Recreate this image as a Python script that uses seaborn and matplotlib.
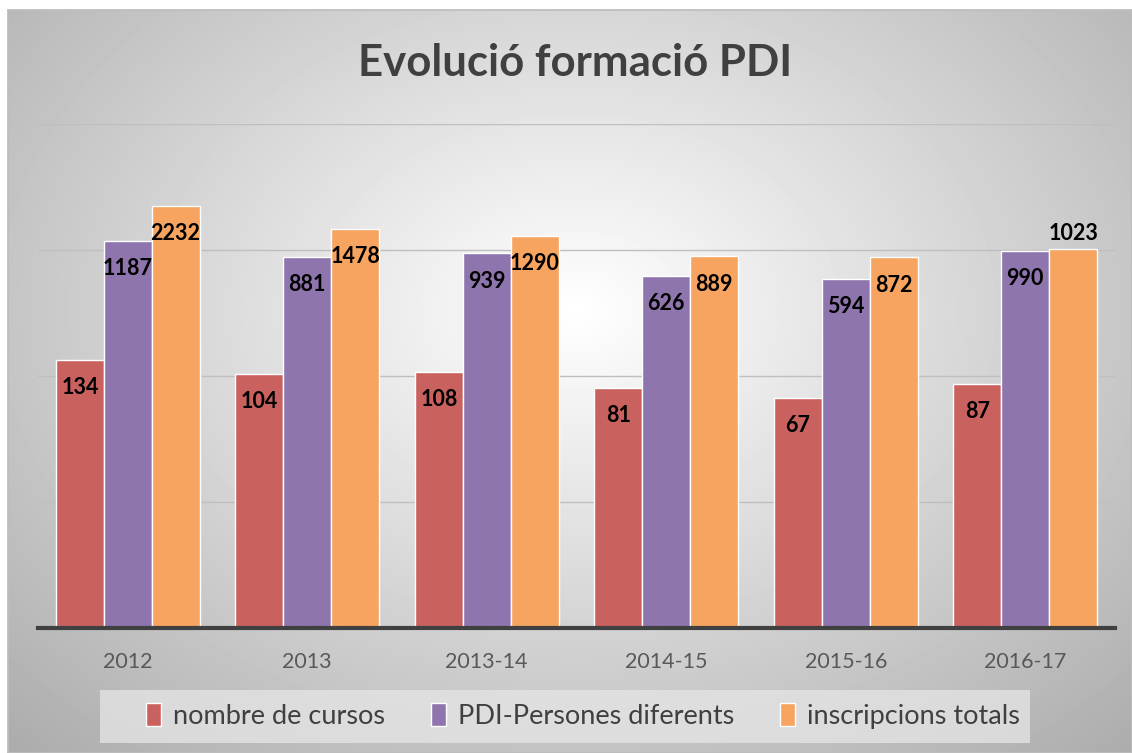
import numpy as np
import pandas as pd
import seaborn as sns
from matplotlib import pyplot as plt
from matplotlib.patches import Rectangle
from matplotlib.ticker import NullLocator

# data
years = ['2012', '2013', '2013-14', '2014-15', '2015-16', '2016-17']
cursos = [134, 104, 108, 81, 67, 87]
persones = [1187, 881, 939, 626, 594, 990]
inscripcions = [2232, 1478, 1290, 889, 872, 1023]
series = ['nombre de cursos', 'PDI-Persones diferents', 'inscripcions totals']
colors = ['#C9625F', '#8F75AE', '#F6A45F']

df = pd.DataFrame({
    'any': years * 3,
    'serie': np.repeat(series, len(years)),
    'valor': cursos + persones + inscripcions,
})

sns.set_theme(style='white')
plt.rcParams['font.family'] = ['Lato', 'DejaVu Sans']

fig = plt.figure(figsize=(11.32, 7.53), dpi=100)
fig.patch.set_facecolor('white')

# radial grey-to-white background
bg = fig.add_axes([8 / 1132, 0, 1 - 8 / 1132, 1 - 10 / 753], zorder=-10)
yy, xx = np.mgrid[0:743, 0:1124]
r = np.sqrt(((xx - 567) / 700) ** 2 + ((yy - 300) / 520) ** 2)
shade = np.clip(1 - 0.28 * r, 0, 1)
bg.imshow(shade, cmap='gray', vmin=0, vmax=1, aspect='auto')
bg.set_xticks([])
bg.set_yticks([])
for s in bg.spines.values():
    s.set_color('#BDBDBD')

# legend band
fig.patches.append(Rectangle((100 / 1132, 1 - 743 / 753), 930 / 1132, 53 / 753,
                             transform=fig.transFigure, facecolor='#E6E6E6',
                             edgecolor='none', alpha=0.75, zorder=-5))

ax = fig.add_axes([38 / 1132, 1 - 628 / 753, (1115 - 38) / 1132, (628 - 124) / 753])
ax.patch.set_alpha(0)
ax.set_yscale('log')
sns.barplot(data=df, x='any', y='valor', hue='serie', palette=colors, width=0.8,
            saturation=1, edgecolor='white', linewidth=1, ax=ax)
ax.set_ylim(1, 10000)
ax.set_xlim(-0.5, 5.5)
ax.set_yticks([10, 100, 1000, 10000])
ax.set_yticklabels([])
ax.yaxis.set_minor_locator(NullLocator())
ax.yaxis.grid(True, color='#BFBFBF', lw=1)
ax.set_axisbelow(True)
ax.tick_params(axis='y', length=0)
ax.tick_params(axis='x', length=0, labelsize=15.5, colors='#595959', pad=17)
ax.set_xlabel('')
ax.set_ylabel('')
for side in ['left', 'right', 'top']:
    ax.spines[side].set_visible(False)
ax.spines['bottom'].set_color('#404040')
ax.spines['bottom'].set_linewidth(3)

# value labels, inside the top of each bar (one sits above its bar)
above = {('inscripcions totals', '2016-17')}
for serie, container in zip(series, ax.containers):
    for yr, bar in zip(years, container):
        h = bar.get_height()
        dy = 11 if (serie, yr) in above else -20
        ax.annotate(f'{h:.0f}', (bar.get_x() + bar.get_width() / 2, h),
                    xytext=(0, dy), textcoords='offset points',
                    ha='center', va='center', fontsize=15.5, fontweight='bold',
                    color='black')

handles, labels = ax.get_legend_handles_labels()
ax.get_legend().remove()
fig.legend(handles, labels, loc='center', bbox_to_anchor=(583 / 1132, 1 - 716 / 753),
           ncol=3, frameon=False, fontsize=19.5, handlelength=0.55, handleheight=0.9,
           handletextpad=0.45, columnspacing=1.7, labelcolor='#404040')

fig.text(575 / 1132, 1 - 63 / 753, 'Evolució formació PDI', ha='center', va='center',
         fontsize=31.5, fontweight='bold', color='#404040')

fig.savefig('out.png', dpi=100)
